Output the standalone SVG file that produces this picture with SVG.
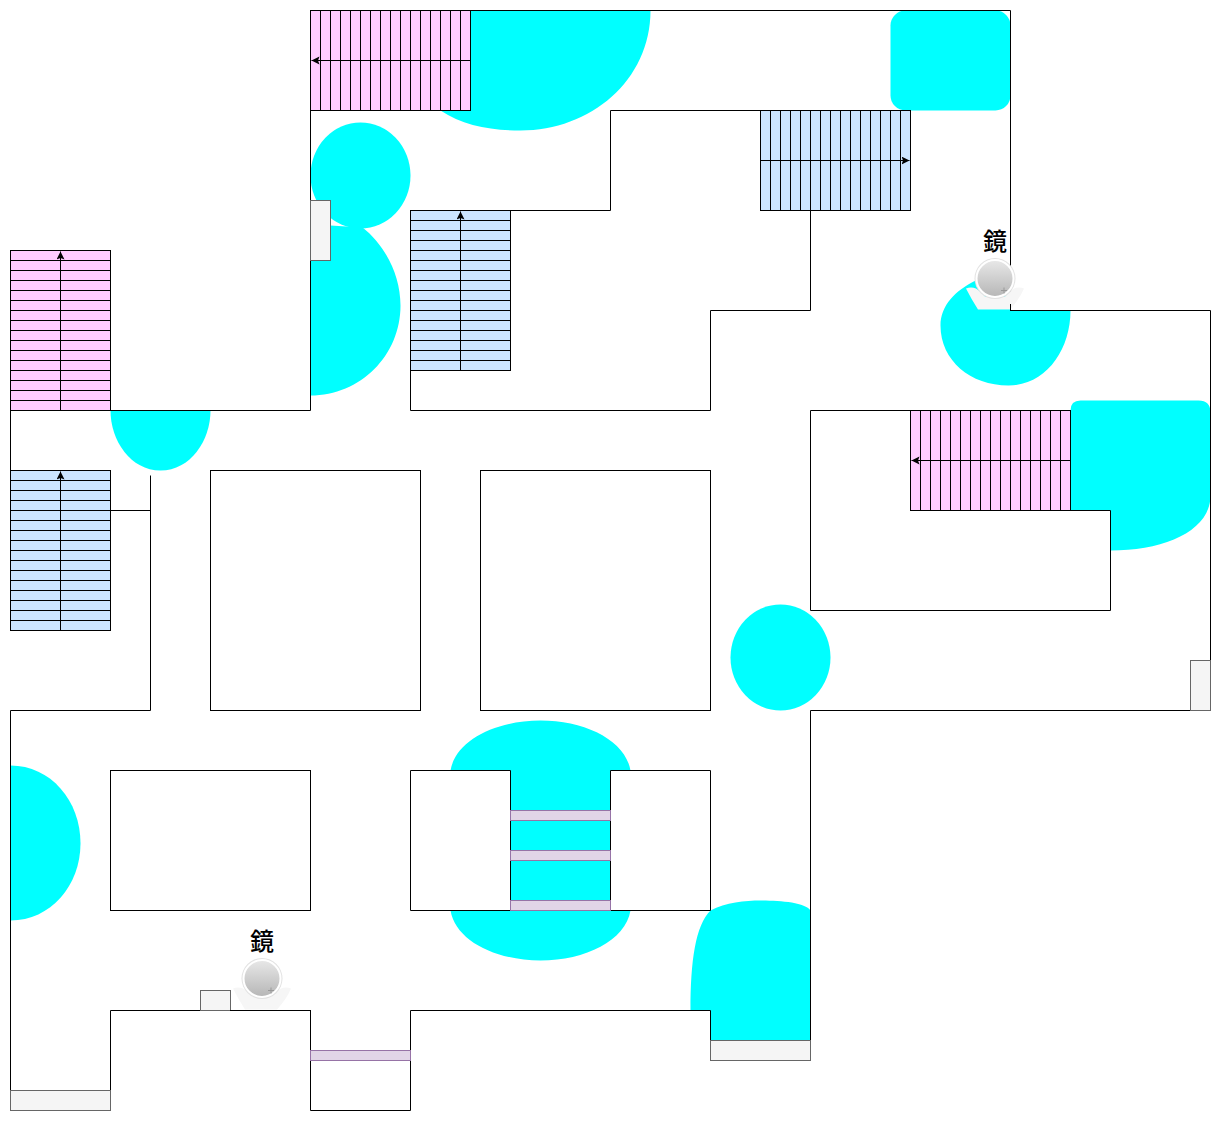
<svg xmlns="http://www.w3.org/2000/svg" width="1221" height="1121" viewBox="0 0 1221 1121">
<style>
.c{fill:#00ffff;stroke:none}
.w{fill:none;stroke:#000;stroke-width:1}
.r{fill:#fff;stroke:#000;stroke-width:1}
.p{fill:#ffccff;stroke:#000;stroke-width:1}
.b{fill:#cce5ff;stroke:#000;stroke-width:1}
.s{fill:none;stroke:#000;stroke-width:1}
.a{fill:none;stroke:#000;stroke-width:1;marker-end:url(#ah)}
.g{fill:#f5f5f5;stroke:#666666;stroke-width:1}
.l{fill:#e1d5e7;stroke:#9673a6;stroke-width:1}
.t{font-family:"Noto Sans CJK JP","Liberation Sans",sans-serif;font-size:24px;fill:#000;text-anchor:middle;font-weight:500}
</style>
<defs>
<marker id="ah" markerUnits="userSpaceOnUse" markerWidth="10" markerHeight="10" refX="8" refY="4" orient="auto"><path d="M0,0L8,4L0,8L1.500,4Z" fill="#000"/></marker>
<linearGradient id="mg" x1="0" y1="0" x2="0" y2="1"><stop offset="0" stop-color="#e8e8e8"/><stop offset="1" stop-color="#b6b6b6"/></linearGradient>
<g id="mirror">
<path d="M-29,10Q-24,8-19,10Q-14,13-10,18L10,18Q14,13 19,10Q24,8 29,10Q25,20 15,31L-17,31Q-24,20-29,10Z" fill="#f6f6f6"/>
<circle r="20.500" fill="#e2e2e2"/>
<circle r="18.500" fill="url(#mg)" stroke="#fff" stroke-width="2"/>
<path d="M6,12h6M9,9v6" stroke="#999" stroke-width="1" fill="none"/>
</g>
</defs>
<g transform="translate(0.5,0.5)">
<g id="zones">
<path class="c" d="M470,10L650,10C650,80 590,130 520,130C490,130 462,125 440,110L470,110Z"/>
<rect class="c" x="890" y="10" width="120" height="100" rx="15" ry="15"/>
<ellipse class="c" cx="360" cy="175" rx="50" ry="53"/>
<path class="c" d="M330,225L362,227C385,245 400,275 400,305C400,355 360,395 310,395L310,260L330,260Z"/>
<path class="c" d="M110,410L210,410C210,440 190,470 160,470C130,470 110,440 110,410Z"/>
<path class="c" d="M975,280C955,290 940,305 940,325C940,360 970,385 1008,385C1045,385 1070,350 1070,310L1010,310L1010,290Z"/>
<path class="c" d="M1070,510L1070,410Q1070,400 1080,400L1198,400Q1210,400 1210,412L1210,495C1210,530 1165,550 1110,550L1110,510Z"/>
<ellipse class="c" cx="780" cy="657" rx="50" ry="53"/>
<path class="c" d="M10,765C50,765 80,800 80,843C80,885 50,920 10,920Z"/>
<path class="c" d="M450,770C455,740 495,720 540,720C585,720 625,740 630,770L610,770L610,910L630,910C625,940 585,960 540,960C495,960 455,940 450,910L510,910L510,770Z"/>
<path class="c" d="M710,910C725,902 745,900 760,900C780,900 805,902 810,910L810,1040L710,1040L710,1010L690,1010C690,960 695,925 710,910Z"/>
</g>
<g id="walls">
<path class="w" d="M110,410L310,410L310,10L1010,10L1010,310L1210,310L1210,710L810,710L810,1060L710,1060L710,1010L410,1010L410,1110L310,1110L310,1010L110,1010L110,1110L10,1110L10,710L150,710L150,475"/>
<path class="w" d="M10,410L10,470"/>
<path class="w" d="M110,510L150,510"/>
<path class="w" d="M760,110L610,110L610,210L510,210"/>
<path class="w" d="M810,210L810,310L710,310L710,410L410,410L410,370"/>
<path class="w" d="M910,410L810,410L810,610L1110,610L1110,510L1070,510"/>
<path class="w" d="M510,770L410,770L410,910L510,910L510,770M610,770L710,770L710,910L610,910L610,770"/>
</g>
<g id="room-1"><rect class="r" x="210" y="470" width="210" height="240"/></g>
<g id="room-2"><rect class="r" x="480" y="470" width="230" height="240"/></g>
<g id="room-3"><rect class="r" x="110" y="770" width="200" height="140"/></g>
<g id="stair-top-pink">
<rect class="p" x="310" y="10" width="160" height="100"/>
<path class="s" d="M320,10v100M330,10v100M340,10v100M350,10v100M360,10v100M370,10v100M380,10v100M390,10v100M400,10v100M410,10v100M420,10v100M430,10v100M440,10v100M450,10v100M460,10v100"/>
<path class="a" d="M470,60L311,60"/>
</g>
<g id="stair-top-blue">
<rect class="b" x="760" y="110" width="150" height="100"/>
<path class="s" d="M770,110v100M780,110v100M790,110v100M800,110v100M810,110v100M820,110v100M830,110v100M840,110v100M850,110v100M860,110v100M870,110v100M880,110v100M890,110v100M900,110v100"/>
<path class="a" d="M760,160L909,160"/>
</g>
<g id="stair-mid-blue">
<rect class="b" x="410" y="210" width="100" height="160"/>
<path class="s" d="M410,220h100M410,230h100M410,240h100M410,250h100M410,260h100M410,270h100M410,280h100M410,290h100M410,300h100M410,310h100M410,320h100M410,330h100M410,340h100M410,350h100M410,360h100"/>
<path class="a" d="M460,370L460,211"/>
</g>
<g id="stair-left-pink">
<rect class="p" x="10" y="250" width="100" height="160"/>
<path class="s" d="M10,260h100M10,270h100M10,280h100M10,290h100M10,300h100M10,310h100M10,320h100M10,330h100M10,340h100M10,350h100M10,360h100M10,370h100M10,380h100M10,390h100M10,400h100"/>
<path class="a" d="M60,410L60,251"/>
</g>
<g id="stair-left-blue">
<rect class="b" x="10" y="470" width="100" height="160"/>
<path class="s" d="M10,480h100M10,490h100M10,500h100M10,510h100M10,520h100M10,530h100M10,540h100M10,550h100M10,560h100M10,570h100M10,580h100M10,590h100M10,600h100M10,610h100M10,620h100"/>
<path class="a" d="M60,630L60,471"/>
</g>
<g id="stair-right-pink">
<rect class="p" x="910" y="410" width="160" height="100"/>
<path class="s" d="M920,410v100M930,410v100M940,410v100M950,410v100M960,410v100M970,410v100M980,410v100M990,410v100M1000,410v100M1010,410v100M1020,410v100M1030,410v100M1040,410v100M1050,410v100M1060,410v100"/>
<path class="a" d="M1070,460L911,460"/>
</g>
<g id="fixture-1"><rect class="g" x="310" y="200" width="20" height="60"/></g>
<g id="fixture-2"><rect class="g" x="1190" y="660" width="20" height="50"/></g>
<g id="fixture-3"><rect class="g" x="200" y="990" width="30" height="20"/></g>
<g id="fixture-4"><rect class="g" x="10" y="1090" width="100" height="20"/></g>
<g id="fixture-5"><rect class="g" x="710" y="1040" width="100" height="20"/></g>
<g id="bar-1"><rect class="l" x="510" y="810" width="100" height="10"/></g>
<g id="bar-2"><rect class="l" x="510" y="850" width="100" height="10"/></g>
<g id="bar-3"><rect class="l" x="510" y="900" width="100" height="10"/></g>
<g id="bar-4"><rect class="l" x="310" y="1050" width="100" height="10"/></g>
</g>
<g id="mirror-1"><use href="#mirror" x="995" y="278.500"/><path d="M1010.500,304V311" stroke="#000" fill="none"/><text class="t" x="995" y="250">鏡</text></g>
<g id="mirror-2"><use href="#mirror" x="262" y="978.500"/><path d="M230,1010.500H311" stroke="#000" fill="none"/><text class="t" x="262" y="950">鏡</text></g>
</svg>
